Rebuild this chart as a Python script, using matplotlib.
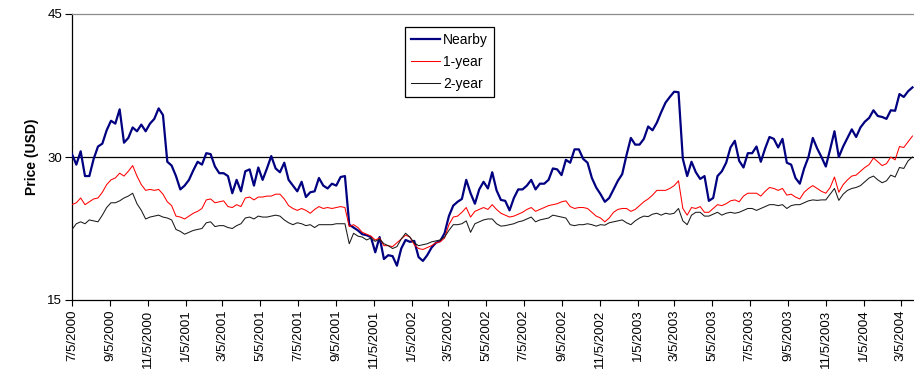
import matplotlib
matplotlib.use("Agg")
import matplotlib.pyplot as plt
import matplotlib.dates as mdates
import pandas as pd

plt.rcParams["font.family"] = ["Liberation Sans", "DejaVu Sans"]

# Weekly settlement prices (USD), first observation 5 July 2000
start_date = "2000-07-05"

nearby = [
    30.3, 29.2, 30.6, 28.0, 28.0, 29.8, 31.1, 31.4, 32.8, 33.8,
    33.5, 35.0, 31.5, 32.0, 33.1, 32.7, 33.4, 32.7, 33.5, 34.0,
    35.1, 34.4, 29.5, 29.1, 28.0, 26.6, 27.0, 27.6, 28.6, 29.5,
    29.2, 30.4, 30.3, 29.0, 28.3, 28.3, 28.0, 26.2, 27.6, 26.4,
    28.5, 28.7, 27.0, 28.9, 27.6, 28.8, 30.1, 28.8, 28.4, 29.4,
    27.6, 27.0, 26.4, 27.4, 25.8, 26.3, 26.4, 27.8, 27.0, 26.7,
    27.2, 27.0, 27.9, 28.0, 22.9, 22.6, 22.3, 21.9, 21.8, 21.6,
    20.0, 21.6, 19.3, 19.7, 19.6, 18.6, 20.4, 21.3, 21.1, 21.2,
    19.5, 19.1, 19.7, 20.5, 21.0, 21.2, 22.0, 23.8, 24.9, 25.3,
    25.6, 27.6, 26.2, 25.1, 26.6, 27.4, 26.7, 28.4, 26.5, 25.5,
    25.4, 24.4, 25.7, 26.6, 26.6, 27.0, 27.6, 26.6, 27.2, 27.2,
    27.6, 28.8, 28.7, 28.1, 29.7, 29.4, 30.8, 30.8, 29.8, 29.4,
    27.8, 26.8, 26.1, 25.3, 25.7, 26.6, 27.5, 28.2, 30.2, 32.0,
    31.3, 31.3, 31.9, 33.2, 32.8, 33.6, 34.7, 35.7, 36.3, 36.85,
    36.8, 29.8, 28.0, 29.5, 28.4, 27.7, 28.0, 25.4, 25.7, 28.0,
    28.5, 29.4, 31.0, 31.7, 29.6, 28.9, 30.4, 30.4, 31.1, 29.5,
    30.9, 32.1, 31.9, 31.0, 31.9, 29.4, 29.2, 27.8, 27.2, 28.8,
    30.0, 32.0, 30.9, 30.0, 29.0, 30.8, 32.7, 30.0, 31.1, 32.0,
    32.9, 32.1, 33.1, 33.7, 34.1, 34.9, 34.3, 34.2, 34.0, 34.9,
    34.85, 36.6, 36.3, 36.9, 37.3,
]

one_year = [
    25.0, 25.2, 25.7, 25.0, 25.3, 25.6, 25.7, 26.3, 27.1, 27.6,
    27.8, 28.3, 28.0, 28.5, 29.1, 28.0, 27.1, 26.5, 26.6, 26.5,
    26.6, 26.1, 25.3, 24.9, 23.8, 23.7, 23.5, 23.8, 24.1, 24.3,
    24.6, 25.5, 25.6, 25.2, 25.3, 25.4, 24.8, 24.7, 25.0, 24.8,
    25.7, 25.8, 25.5, 25.8, 25.8, 25.9, 25.9, 26.1, 26.1, 25.6,
    24.9, 24.6, 24.4, 24.6, 24.4, 24.1, 24.5, 24.8, 24.6, 24.7,
    24.6, 24.7, 24.8, 24.7, 22.7, 22.9, 22.6, 22.1, 21.9, 21.7,
    21.3, 21.5, 20.7, 20.7, 20.6, 21.0, 21.4, 21.8, 21.6, 20.8,
    20.4, 20.3, 20.5, 20.7, 21.0, 21.1, 21.5, 22.9, 23.7, 23.8,
    24.2, 24.7, 23.7, 24.3, 24.5, 24.7, 24.5, 25.0, 24.5, 24.1,
    23.9, 23.7, 23.8, 24.0, 24.2, 24.5, 24.7, 24.3, 24.5, 24.7,
    24.9, 25.0, 25.1, 25.3, 25.4, 24.8, 24.6, 24.7, 24.7, 24.6,
    24.2, 23.8, 23.6, 23.2, 23.6, 24.2, 24.5, 24.6, 24.6, 24.3,
    24.5, 24.9, 25.3, 25.6, 26.0, 26.5, 26.5, 26.5, 26.7, 27.0,
    27.5, 24.6, 23.9, 24.7, 24.6, 24.8, 24.2, 24.2, 24.6, 25.0,
    24.9, 25.1, 25.4, 25.5, 25.3, 25.9, 26.2, 26.2, 26.2, 25.9,
    26.4, 26.8, 26.7, 26.5, 26.7, 26.0, 26.1, 25.8, 25.6, 26.3,
    26.7, 27.0, 26.7, 26.4, 26.2, 26.8, 27.9, 26.3, 27.1, 27.6,
    28.0, 28.1, 28.5, 28.9, 29.2, 29.9, 29.5, 29.1, 29.3, 30.0,
    29.7, 31.1, 31.0, 31.6, 32.2,
]

two_year = [
    22.4, 23.0, 23.2, 23.0, 23.4, 23.3, 23.2, 23.9, 24.7, 25.2,
    25.2, 25.4, 25.7, 25.9, 26.2, 25.1, 24.4, 23.5, 23.7, 23.8,
    23.9, 23.7, 23.6, 23.4, 22.4, 22.2, 21.9, 22.1, 22.3, 22.4,
    22.5, 23.1, 23.2, 22.7, 22.8, 22.8, 22.6, 22.5, 22.8, 23.0,
    23.6, 23.7, 23.5, 23.8, 23.7, 23.7, 23.8, 23.9, 23.8, 23.4,
    23.1, 22.9, 23.1, 23.0, 22.8, 22.9, 22.6, 22.9, 22.9, 22.9,
    22.9, 23.0, 23.0, 23.0, 20.9, 22.0, 21.7, 21.6, 21.3, 21.5,
    21.15, 21.4, 20.9, 20.7, 20.4, 20.6, 21.4, 22.0, 21.6, 21.0,
    20.7, 20.8, 20.9, 21.1, 21.2, 21.3, 21.6, 22.3, 22.9, 22.9,
    23.0, 23.3, 22.1, 23.0, 23.2, 23.4, 23.5, 23.5, 23.0, 22.75,
    22.8, 22.9, 23.0, 23.2, 23.3, 23.5, 23.7, 23.2, 23.4, 23.5,
    23.6, 23.9, 23.8, 23.7, 23.6, 22.9, 22.8, 22.9, 22.9, 23.0,
    22.9, 22.75, 22.9, 22.85, 23.1, 23.2, 23.3, 23.4, 23.1, 22.9,
    23.3, 23.6, 23.8, 23.75, 24.0, 24.1, 23.9, 24.1, 24.0, 24.1,
    24.6, 23.3, 22.9, 23.9, 24.2, 24.2, 23.8, 23.8, 24.0, 24.2,
    23.9, 24.1, 24.2, 24.1, 24.2, 24.4, 24.6, 24.6, 24.4, 24.6,
    24.8, 25.0, 25.0, 24.9, 25.0, 24.6, 24.9, 25.0, 25.0, 25.2,
    25.4, 25.5, 25.45, 25.5, 25.5, 26.1, 26.7, 25.45, 26.1, 26.5,
    26.7, 26.8, 27.0, 27.4, 27.8, 28.0, 27.6, 27.3, 27.5, 28.1,
    27.9, 28.9, 28.8, 29.6, 30.0,
]

tick_dates = [
    "2000-07-05", "2000-09-05", "2000-11-05", "2001-01-05", "2001-03-05",
    "2001-05-05", "2001-07-05", "2001-09-05", "2001-11-05", "2002-01-05",
    "2002-03-05", "2002-05-05", "2002-07-05", "2002-09-05", "2002-11-05",
    "2003-01-05", "2003-03-05", "2003-05-05", "2003-07-05", "2003-09-05",
    "2003-11-05", "2004-01-05", "2004-03-05",
]
tick_labels = [
    "7/5/2000", "9/5/2000", "11/5/2000", "1/5/2001", "3/5/2001",
    "5/5/2001", "7/5/2001", "9/5/2001", "11/5/2001", "1/5/2002",
    "3/5/2002", "5/5/2002", "7/5/2002", "9/5/2002", "11/5/2002",
    "1/5/2003", "3/5/2003", "5/5/2003", "7/5/2003", "9/5/2003",
    "11/5/2003", "1/5/2004", "3/5/2004",
]

weeks = pd.date_range(start_date, periods=len(nearby), freq="7D")

fig = plt.figure(figsize=(9.14, 3.72), dpi=100)
ax = fig.add_axes([72 / 914, 72 / 372, 842 / 914, 286 / 372])

# reference line at 30 USD
ax.axhline(30, color="black", lw=0.9, zorder=1)

ax.plot(weeks, nearby, color="#000080", lw=1.6, label="Nearby", zorder=3)
ax.plot(weeks, one_year, color="#ff0000", lw=0.75, label="1-year", zorder=3)
ax.plot(weeks, two_year, color="#1a1a1a", lw=0.75, label="2-year", zorder=3)

x0 = mdates.date2num(pd.Timestamp(start_date))
ax.set_xlim(x0, x0 + 1360.5)
ax.set_ylim(15, 45)
ax.set_yticks([15, 30, 45])
ax.tick_params(axis="y", labelsize=9.5, length=5, width=0.8, pad=2, direction="out")

ax.set_xticks([mdates.date2num(pd.Timestamp(d)) for d in tick_dates])
ax.set_xticklabels(tick_labels, rotation=90, fontsize=9.5, va="top")
ax.tick_params(axis="x", length=4, width=0.8, pad=3, direction="out")

ax.set_ylabel("Price (USD)", fontsize=10, fontweight="bold", labelpad=6)

ax.spines["right"].set_visible(False)
ax.spines["top"].set_color("#8c8c8c")
ax.spines["top"].set_linewidth(0.9)
for side in ("left", "bottom"):
    ax.spines[side].set_color("black")
    ax.spines[side].set_linewidth(0.9)

leg = ax.legend(
    loc="upper left",
    bbox_to_anchor=(405 / 914, 1 - 27 / 372),
    bbox_transform=fig.transFigure,
    fontsize=10,
    frameon=True,
    fancybox=False,
    framealpha=1,
    edgecolor="black",
    handlelength=2.15,
    handletextpad=0.2,
    labelspacing=0.6,
    borderpad=0.4,
    borderaxespad=0,
)
leg.get_frame().set_linewidth(0.9)

fig.savefig("out.png", dpi=100)
